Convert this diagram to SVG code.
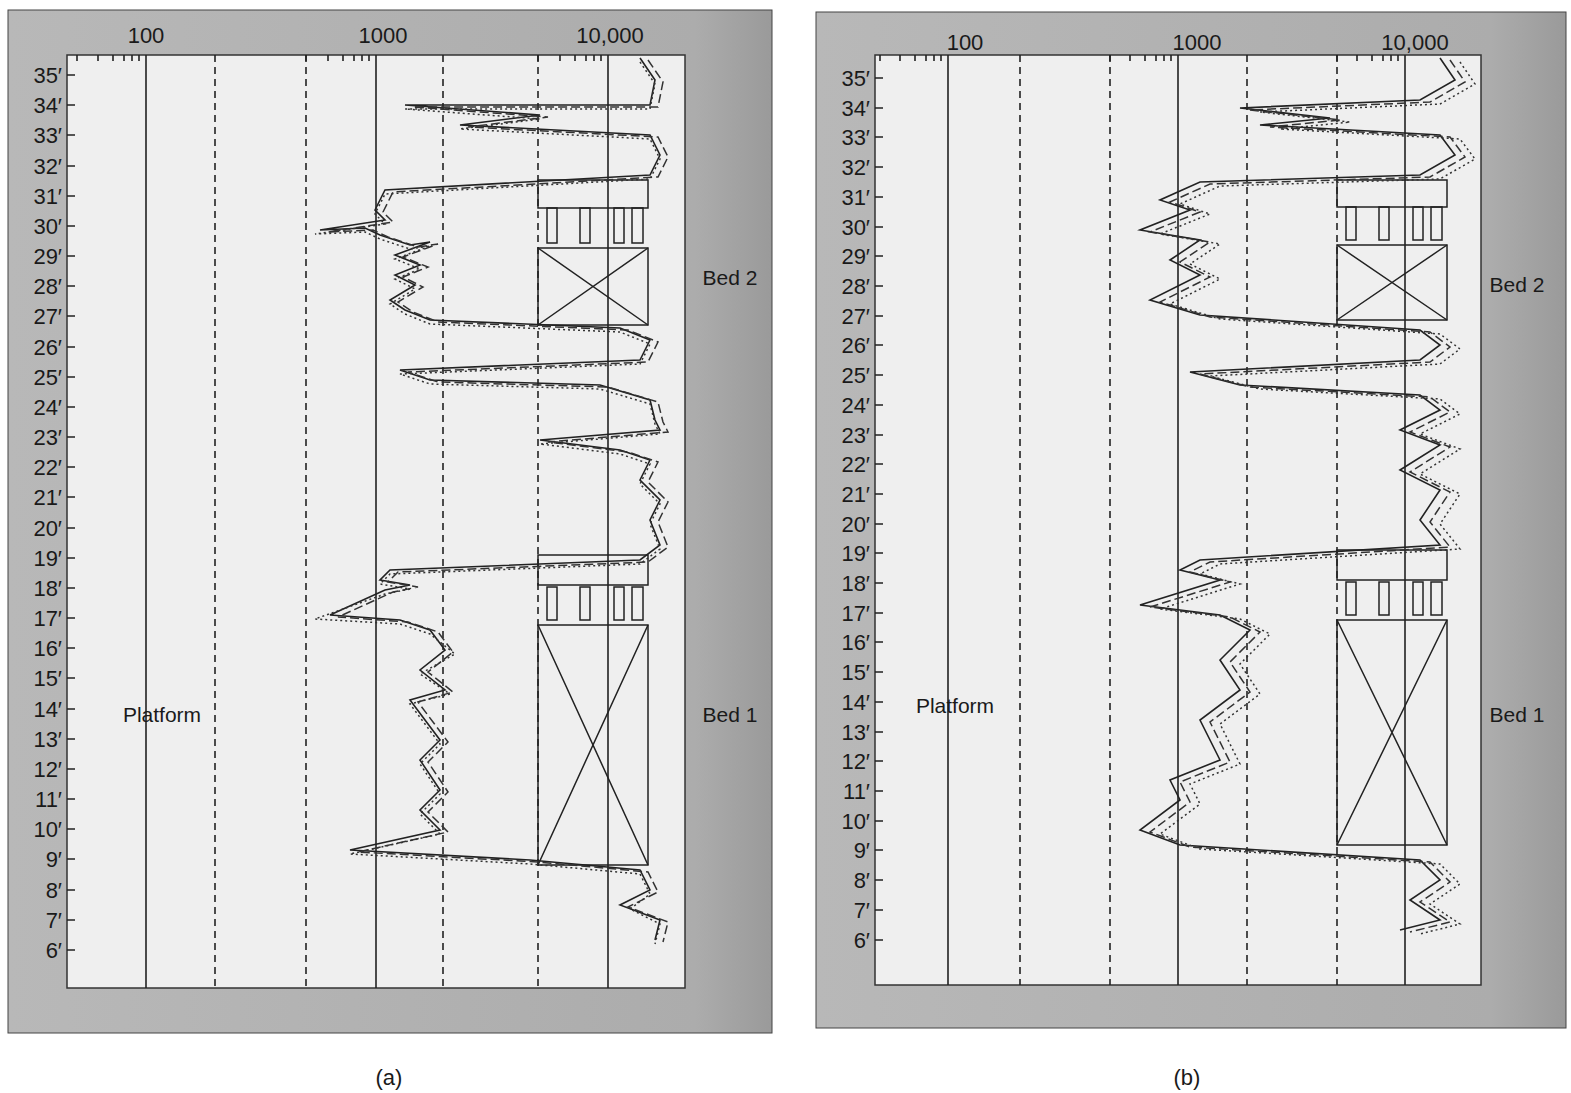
<svg xmlns="http://www.w3.org/2000/svg" width="1571" height="1093" viewBox="0 0 1571 1093">
<defs>
<linearGradient id="fr" x1="0" x2="1" y1="0" y2="0"><stop offset="0" stop-color="#b8b8b8"/><stop offset="0.9" stop-color="#acacac"/><stop offset="1" stop-color="#9a9a9a"/></linearGradient>
</defs>
<style>
.t{font-family:"Liberation Sans",Arial,sans-serif;font-size:22px;fill:#1a1a1a}
.l{font-family:"Liberation Sans",Arial,sans-serif;font-size:21px;fill:#1a1a1a}
.ax{stroke:#222;stroke-width:1.6;fill:none}
.dsh{stroke:#222;stroke-width:1.6;stroke-dasharray:7,5;fill:none}
.sym{stroke:#222;stroke-width:1.5;fill:none}
.c1{stroke:#222;stroke-width:1.6;fill:none}
.c2{stroke:#333;stroke-width:1.5;fill:none;stroke-dasharray:9,4}
.c3{stroke:#333;stroke-width:1.5;fill:none;stroke-dasharray:2,3}
</style>
<rect width="1571" height="1093" fill="#fff"/>
<g id="panel-a">
<rect x="8" y="10" width="764" height="1023" fill="url(#fr)" stroke="#444" stroke-width="1"/>
<rect x="67" y="55" width="618" height="933" fill="#efefef" stroke="#333" stroke-width="1.5"/>
<path class="ax" d="M146,55V988M376,55V988M608,55V988"/>
<path class="dsh" d="M215,55V988M306,55V988M443,55V988M538,55V988"/>
<path class="ax" d="M67,75h8M67,105h8M67,135h8M67,166h8M67,196h8M67,226h8M67,256h8M67,286h8M67,316h8M67,347h8M67,377h8M67,407h8M67,437h8M67,467h8M67,497h8M67,528h8M67,558h8M67,588h8M67,618h8M67,648h8M67,678h8M67,709h8M67,739h8M67,769h8M67,799h8M67,829h8M67,859h8M67,890h8M67,920h8M67,950h8"/>
<path class="ax" d="M77,55v6M98,55v6M113,55v6M124,55v6M132,55v6M139,55v6M306,55v6M328,55v6M343,55v6M354,55v6M362,55v6M369,55v6M538,55v6M560,55v6M575,55v6M586,55v6M594,55v6M601,55v6"/>
<g class="t" text-anchor="end">
<text x="62" y="83">35′</text><text x="62" y="113">34′</text><text x="62" y="143">33′</text><text x="62" y="174">32′</text><text x="62" y="204">31′</text><text x="62" y="234">30′</text><text x="62" y="264">29′</text><text x="62" y="294">28′</text><text x="62" y="324">27′</text><text x="62" y="355">26′</text><text x="62" y="385">25′</text><text x="62" y="415">24′</text><text x="62" y="445">23′</text><text x="62" y="475">22′</text><text x="62" y="505">21′</text><text x="62" y="536">20′</text><text x="62" y="566">19′</text><text x="62" y="596">18′</text><text x="62" y="626">17′</text><text x="62" y="656">16′</text><text x="62" y="686">15′</text><text x="62" y="717">14′</text><text x="62" y="747">13′</text><text x="62" y="777">12′</text><text x="62" y="807">11′</text><text x="62" y="837">10′</text><text x="62" y="867">9′</text><text x="62" y="898">8′</text><text x="62" y="928">7′</text><text x="62" y="958">6′</text>
</g>
<g class="t" text-anchor="middle"><text x="146" y="43">100</text><text x="383" y="43">1000</text><text x="610" y="43">10,000</text></g>
<g class="sym">
<rect x="538" y="180" width="110" height="28"/>
<rect x="547" y="208" width="10" height="35"/><rect x="580" y="208" width="10" height="35"/><rect x="614" y="208" width="10" height="35"/><rect x="632" y="208" width="11" height="35"/>
<rect x="538" y="248" width="110" height="77"/><path d="M538,248L648,325M648,248L538,325"/>
<rect x="538" y="555" width="110" height="30"/>
<rect x="547" y="587" width="10" height="33"/><rect x="580" y="587" width="10" height="33"/><rect x="614" y="587" width="10" height="33"/><rect x="632" y="587" width="11" height="33"/>
<rect x="538" y="625" width="110" height="240"/><path d="M538,625L648,865M648,625L538,865"/>
</g>
<polyline class="c1" points="640,58 655,80 650,105 405,105 540,115 460,125 650,135 660,155 650,175 385,190 375,210 385,220 320,230 365,228 380,235 410,245 430,242 395,255 420,265 395,275 415,285 390,300 405,310 430,320 620,328 650,340 640,360 400,370 430,380 600,385 650,400 655,420 660,430 540,440 620,450 650,460 640,480 660,500 650,520 660,545 640,560 390,570 380,580 410,585 385,590 330,615 400,620 430,630 445,650 420,670 445,690 410,700 425,720 440,740 420,760 440,790 420,810 440,830 350,850 530,860 640,870 650,890 620,905 660,920 655,940"/>
<polyline class="c2" transform="translate(8,2)" points="640,58 655,80 650,105 405,105 540,115 460,125 650,135 660,155 650,175 385,190 375,210 385,220 320,230 365,228 380,235 410,245 430,242 395,255 420,265 395,275 415,285 390,300 405,310 430,320 620,328 650,340 640,360 400,370 430,380 600,385 650,400 655,420 660,430 540,440 620,450 650,460 640,480 660,500 650,520 660,545 640,560 390,570 380,580 410,585 385,590 330,615 400,620 430,630 445,650 420,670 445,690 410,700 425,720 440,740 420,760 440,790 420,810 440,830 350,850 530,860 640,870 650,890 620,905 660,920 655,940"/>
<polyline class="c3" transform="translate(-10,4)" points="650,58 665,80 660,105 415,105 550,115 470,125 660,135 670,155 660,175 395,190 385,210 395,220 325,230 375,228 390,235 420,245 440,242 405,255 430,265 405,275 425,285 400,300 415,310 440,320 630,328 660,340 650,360 410,370 440,380 610,385 660,400 665,420 670,430 550,440 630,450 660,460 650,480 670,500 660,520 670,545 650,560 400,570 390,580 420,585 395,590 325,615 410,620 440,630 465,650 430,670 460,690 420,700 435,720 450,740 430,760 450,790 430,810 450,830 360,850 540,860 650,870 660,890 640,905 670,920 665,940"/>
<text class="l" x="162" y="722" text-anchor="middle">Platform</text>
<text class="l" x="730" y="285" text-anchor="middle">Bed 2</text>
<text class="l" x="730" y="722" text-anchor="middle">Bed 1</text>
</g>
<g id="panel-b">
<rect x="816" y="12" width="750" height="1016" fill="url(#fr)" stroke="#444" stroke-width="1"/>
<rect x="875" y="55" width="606" height="930" fill="#efefef" stroke="#333" stroke-width="1.5"/>
<path class="ax" d="M948,55V985M1178,55V985M1405,55V985"/>
<path class="dsh" d="M1020,55V985M1110,55V985M1247,55V985M1337,55V985"/>
<path class="ax" d="M875,78h8M875,108h8M875,137h8M875,167h8M875,197h8M875,227h8M875,256h8M875,286h8M875,316h8M875,345h8M875,375h8M875,405h8M875,435h8M875,464h8M875,494h8M875,524h8M875,553h8M875,583h8M875,613h8M875,642h8M875,672h8M875,702h8M875,732h8M875,761h8M875,791h8M875,821h8M875,850h8M875,880h8M875,910h8M875,940h8"/>
<path class="ax" d="M880,55v6M900,55v6M915,55v6M926,55v6M934,55v6M941,55v6M1110,55v6M1130,55v6M1145,55v6M1156,55v6M1164,55v6M1171,55v6M1337,55v6M1357,55v6M1372,55v6M1383,55v6M1391,55v6M1398,55v6"/>
<g class="t" text-anchor="end">
<text x="870" y="86">35′</text><text x="870" y="116">34′</text><text x="870" y="145">33′</text><text x="870" y="175">32′</text><text x="870" y="205">31′</text><text x="870" y="235">30′</text><text x="870" y="264">29′</text><text x="870" y="294">28′</text><text x="870" y="324">27′</text><text x="870" y="353">26′</text><text x="870" y="383">25′</text><text x="870" y="413">24′</text><text x="870" y="443">23′</text><text x="870" y="472">22′</text><text x="870" y="502">21′</text><text x="870" y="532">20′</text><text x="870" y="561">19′</text><text x="870" y="591">18′</text><text x="870" y="621">17′</text><text x="870" y="650">16′</text><text x="870" y="680">15′</text><text x="870" y="710">14′</text><text x="870" y="740">13′</text><text x="870" y="769">12′</text><text x="870" y="799">11′</text><text x="870" y="829">10′</text><text x="870" y="858">9′</text><text x="870" y="888">8′</text><text x="870" y="918">7′</text><text x="870" y="948">6′</text>
</g>
<g class="t" text-anchor="middle"><text x="965" y="50">100</text><text x="1197" y="50">1000</text><text x="1415" y="50">10,000</text></g>
<g class="sym">
<rect x="1337" y="180" width="110" height="27"/>
<rect x="1346" y="207" width="10" height="33"/><rect x="1379" y="207" width="10" height="33"/><rect x="1413" y="207" width="10" height="33"/><rect x="1431" y="207" width="11" height="33"/>
<rect x="1337" y="245" width="110" height="75"/><path d="M1337,245L1447,320M1447,245L1337,320"/>
<rect x="1337" y="550" width="110" height="30"/>
<rect x="1346" y="582" width="10" height="33"/><rect x="1379" y="582" width="10" height="33"/><rect x="1413" y="582" width="10" height="33"/><rect x="1431" y="582" width="11" height="33"/>
<rect x="1337" y="620" width="110" height="225"/><path d="M1337,620L1447,845M1447,620L1337,845"/>
</g>
<polyline class="c1" points="1440,58 1455,80 1420,100 1240,108 1330,118 1260,125 1440,135 1455,155 1420,175 1200,182 1160,200 1190,210 1140,230 1200,240 1170,260 1200,275 1150,300 1200,315 1420,330 1440,345 1420,360 1190,372 1240,385 1420,395 1440,410 1400,430 1440,445 1400,470 1440,490 1420,520 1440,545 1200,560 1180,570 1220,580 1140,605 1220,615 1250,630 1220,660 1240,690 1200,720 1220,760 1170,780 1180,800 1140,830 1180,845 1420,860 1440,880 1410,900 1440,920 1400,930"/>
<polyline class="c2" transform="translate(10,2)" points="1440,58 1455,80 1420,100 1240,108 1330,118 1260,125 1440,135 1455,155 1420,175 1200,182 1160,200 1190,210 1140,230 1200,240 1170,260 1200,275 1150,300 1200,315 1420,330 1440,345 1420,360 1190,372 1240,385 1420,395 1440,410 1400,430 1440,445 1400,470 1440,490 1420,520 1440,545 1200,560 1180,570 1220,580 1140,605 1220,615 1250,630 1220,660 1240,690 1200,720 1220,760 1170,780 1180,800 1140,830 1180,845 1420,860 1440,880 1410,900 1440,920 1400,930"/>
<polyline class="c3" transform="translate(20,4)" points="1440,58 1455,80 1420,100 1240,108 1330,118 1260,125 1440,135 1455,155 1420,175 1200,182 1160,200 1190,210 1140,230 1200,240 1170,260 1200,275 1150,300 1200,315 1420,330 1440,345 1420,360 1190,372 1240,385 1420,395 1440,410 1400,430 1440,445 1400,470 1440,490 1420,520 1440,545 1200,560 1180,570 1220,580 1140,605 1220,615 1250,630 1220,660 1240,690 1200,720 1220,760 1170,780 1180,800 1140,830 1180,845 1420,860 1440,880 1410,900 1440,920 1400,930"/>
<text class="l" x="955" y="713" text-anchor="middle">Platform</text>
<text class="l" x="1517" y="292" text-anchor="middle">Bed 2</text>
<text class="l" x="1517" y="722" text-anchor="middle">Bed 1</text>
</g>
<text class="t" x="389" y="1085" text-anchor="middle">(a)</text>
<text class="t" x="1187" y="1085" text-anchor="middle">(b)</text>
</svg>
